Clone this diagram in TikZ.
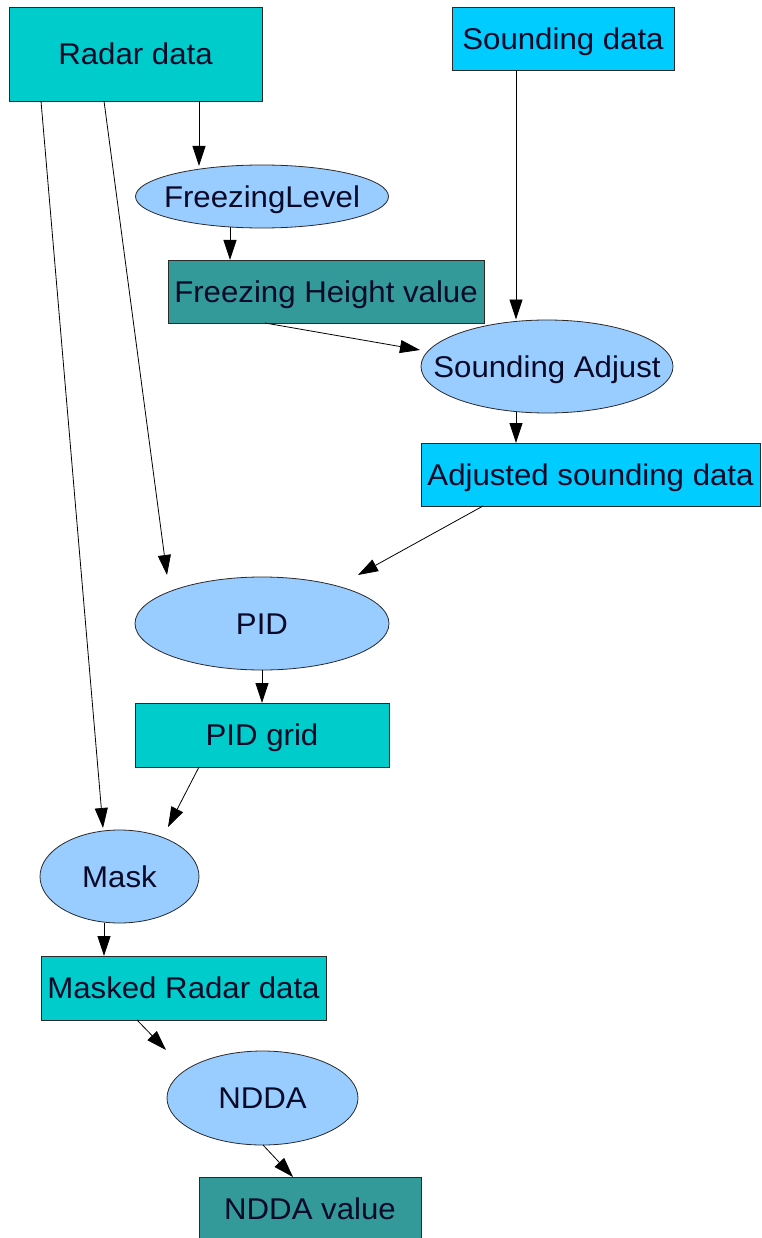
\documentclass[tikz,border=0pt]{standalone}
\usepackage{fontspec}
\setmainfont{Liberation Sans}[FakeStretch=1.04]
\usetikzlibrary{arrows.meta,shapes.geometric}
\definecolor{teal1}{HTML}{00CCCC}
\definecolor{sky1}{HTML}{00CCFF}
\definecolor{ell1}{HTML}{99CCFF}
\definecolor{dark1}{HTML}{339999}
\definecolor{txt1}{HTML}{0A0A28}
\definecolor{bord1}{HTML}{2A2A2A}
\tikzset{
  base/.style={draw=bord1, line width=0.8pt, inner sep=0pt, text=txt1,
    font=\fontsize{30}{36}\selectfont, text height=21.5pt, text depth=0pt},
  boxn/.style={base, rectangle, minimum width=#1},
  ell/.style={base, ellipse, fill=ell1},
  conn/.style={line width=0.8pt, -{Triangle[length=20pt,width=13pt]}},
}
\begin{document}
\begin{tikzpicture}[x=1pt,y=-1pt]
\useasboundingbox (0,0) rectangle (761,1238);
\fill[white] (0,0) rectangle (761,1238);
% nodes
\node[boxn=253pt, minimum height=94pt, fill=teal1] (radar) at (135.5,54) {Radar data};
\node[boxn=222pt, minimum height=63pt, fill=sky1] (sd) at (563,38.5) {Sounding data};
\node[ell, minimum width=253pt, minimum height=63pt] (fl) at (262,196.5) {\makebox[0pt]{FreezingLevel}};
\node[boxn=316pt, minimum height=63pt, fill=dark1] (fhv) at (326,291.5) {Freezing Height value};
\node[ell, minimum width=252pt, minimum height=93pt] (sa) at (547,366.5) {\makebox[0pt]{Sounding Adjust}};
\node[boxn=339pt, minimum height=63pt, fill=sky1] (adj) at (590.5,474.5) {Adjusted sounding data};
\node[ell, minimum width=254pt, minimum height=93pt] (pid) at (262,623.5) {\makebox[0pt]{PID}};
\node[boxn=254pt, minimum height=64pt, fill=teal1] (pidg) at (262,735) {PID grid};
\node[ell, minimum width=159pt, minimum height=93pt] (mask) at (119.5,876.5) {\makebox[0pt]{Mask}};
\node[boxn=285pt, minimum height=64pt, fill=teal1] (masked) at (183.5,988) {Masked Radar data};
\node[ell, minimum width=191pt, minimum height=94pt] (ndda) at (262.5,1098) {\makebox[0pt]{NDDA}};
\node[boxn=222pt, minimum height=63pt, fill=dark1] (nddav) at (310,1208.5) {NDDA value};
% connectors
\draw[conn] ([shift={(63.5,47)}]radar.center) -- ([shift={(-63,-30.5)}]fl.center);
\draw[conn] ([shift={(-32,30.5)}]fl.center) -- ([shift={(-96,-31.5)}]fhv.center);
\draw[conn] ([shift={(-47,31.5)}]sd.center) -- ([shift={(-31,-47)}]sa.center);
\draw[conn] ([shift={(-61,31.5)}]fhv.center) -- ([shift={(-127,-16.5)}]sa.center);
\draw[conn] ([shift={(-31,45)}]sa.center) -- ([shift={(-74.5,-31.5)}]adj.center);
\draw[conn] ([shift={(-107.5,31.5)}]adj.center) -- ([shift={(96,-48.5)}]pid.center);
\draw[conn] ([shift={(-31.5,47)}]radar.center) -- ([shift={(-95,-48.5)}]pid.center);
\draw[conn] ([shift={(-94.5,47)}]radar.center) -- ([shift={(-16.5,-48.5)}]mask.center);
\draw[conn] ([shift={(0,46.5)}]pid.center) -- ([shift={(0,-32)}]pidg.center);
\draw[conn] ([shift={(-63,32)}]pidg.center) -- ([shift={(48.5,-49.5)}]mask.center);
\draw[conn] ([shift={(-15.5,46.5)}]mask.center) -- ([shift={(-79.5,-32)}]masked.center);
\draw[conn] ([shift={(-46.5,32)}]masked.center) -- ([shift={(-96.5,-48)}]ndda.center);
\draw[conn] ([shift={(0.5,47)}]ndda.center) -- ([shift={(-17,-31.5)}]nddav.center);
\end{tikzpicture}
\end{document}
